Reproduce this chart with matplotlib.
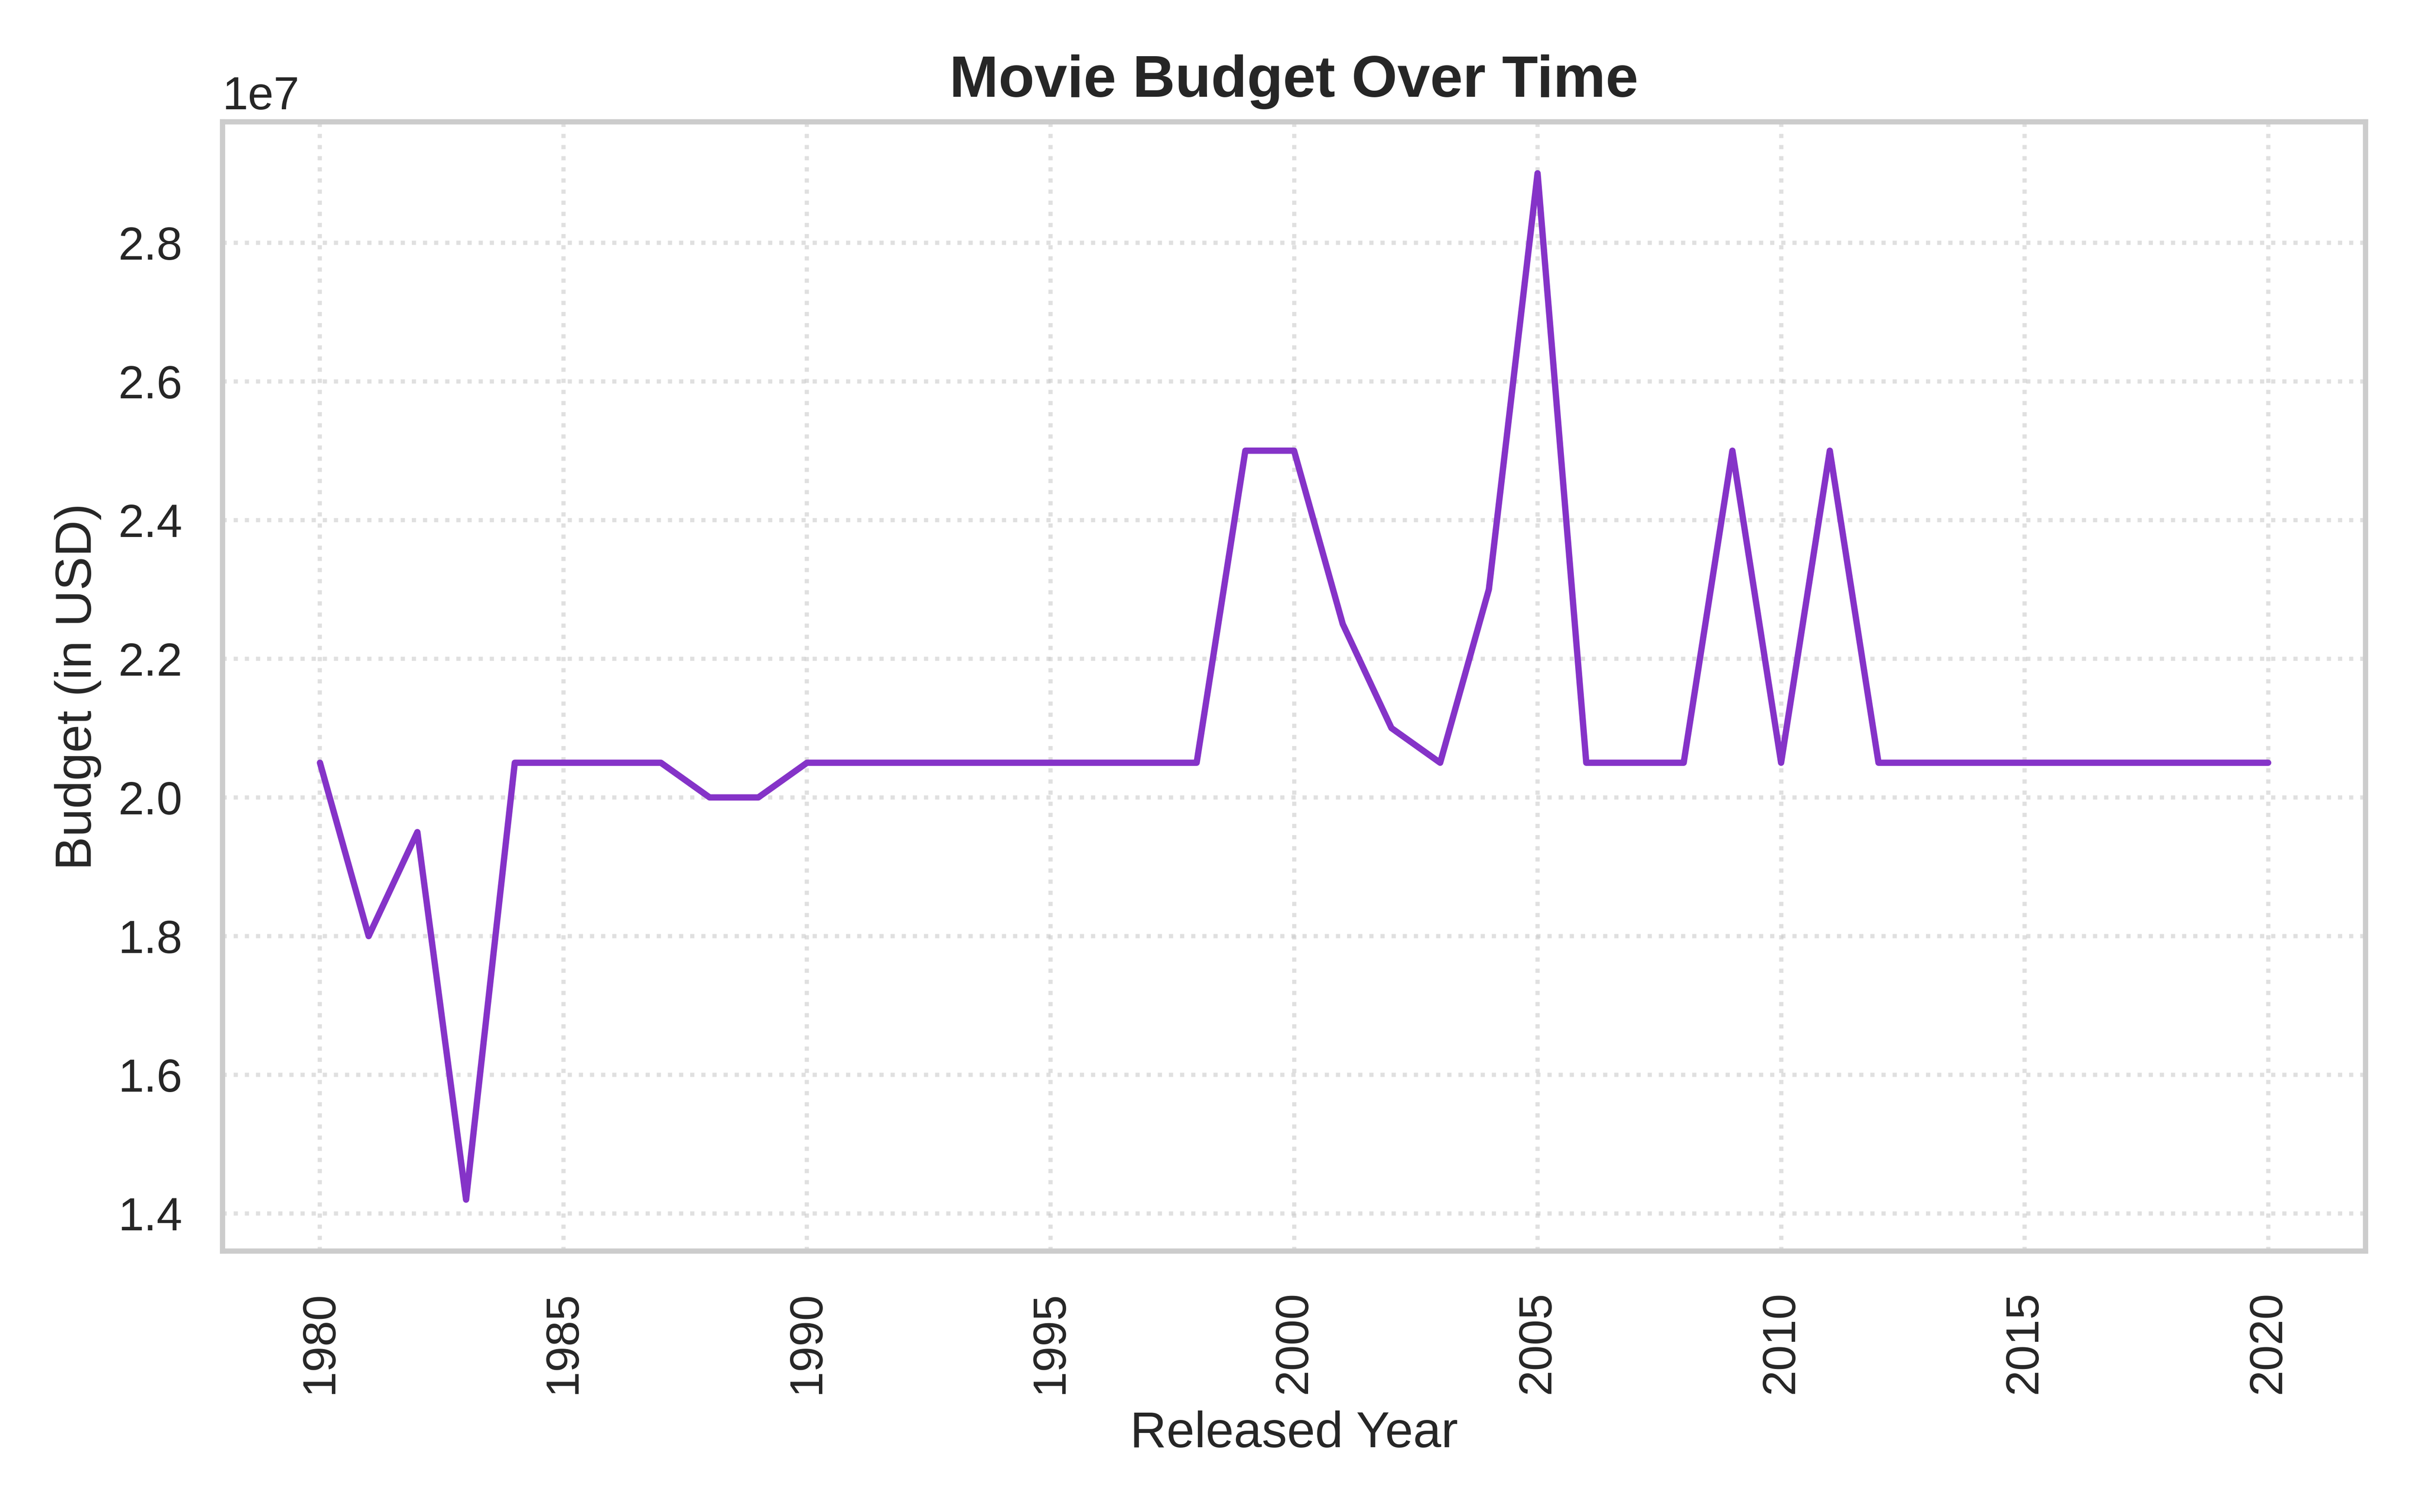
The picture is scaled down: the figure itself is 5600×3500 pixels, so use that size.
import matplotlib
matplotlib.use("Agg")
import matplotlib.pyplot as plt
import seaborn as sns

years = list(range(1980, 2021))
budget = [
    20.5e6, 18.0e6, 19.5e6, 14.2e6, 20.5e6, 20.5e6, 20.5e6, 20.5e6, 20.0e6, 20.0e6,  # 1980-1989
    20.5e6, 20.5e6, 20.5e6, 20.5e6, 20.5e6, 20.5e6, 20.5e6, 20.5e6, 20.5e6, 25.0e6,  # 1990-1999
    25.0e6, 22.5e6, 21.0e6, 20.5e6, 23.0e6, 29.0e6, 20.5e6, 20.5e6, 20.5e6, 25.0e6,  # 2000-2009
    20.5e6, 25.0e6, 20.5e6, 20.5e6, 20.5e6, 20.5e6, 20.5e6, 20.5e6, 20.5e6, 20.5e6,  # 2010-2019
    20.5e6,                                                                          # 2020
]

title = "Movie Budget Over Time"
xlabel = "Released Year"
ylabel = "Budget (in USD)"

sns.set_theme(style="whitegrid", context="notebook")
plt.rcParams["font.family"] = ["Liberation Sans", "DejaVu Sans"]

fig, ax = plt.subplots(figsize=(8, 5), dpi=700)
ax.plot(years, budget, color="#8533C8", linewidth=1.5)
ax.set_title(title, fontsize=14, fontweight="bold")
ax.set_xlabel(xlabel)
ax.set_ylabel(ylabel)
ax.grid(True, linestyle=":", color="#cccccc", alpha=0.6, linewidth=1)
plt.xticks(rotation=90)
fig.tight_layout()
fig.savefig("out.png", dpi=700)
